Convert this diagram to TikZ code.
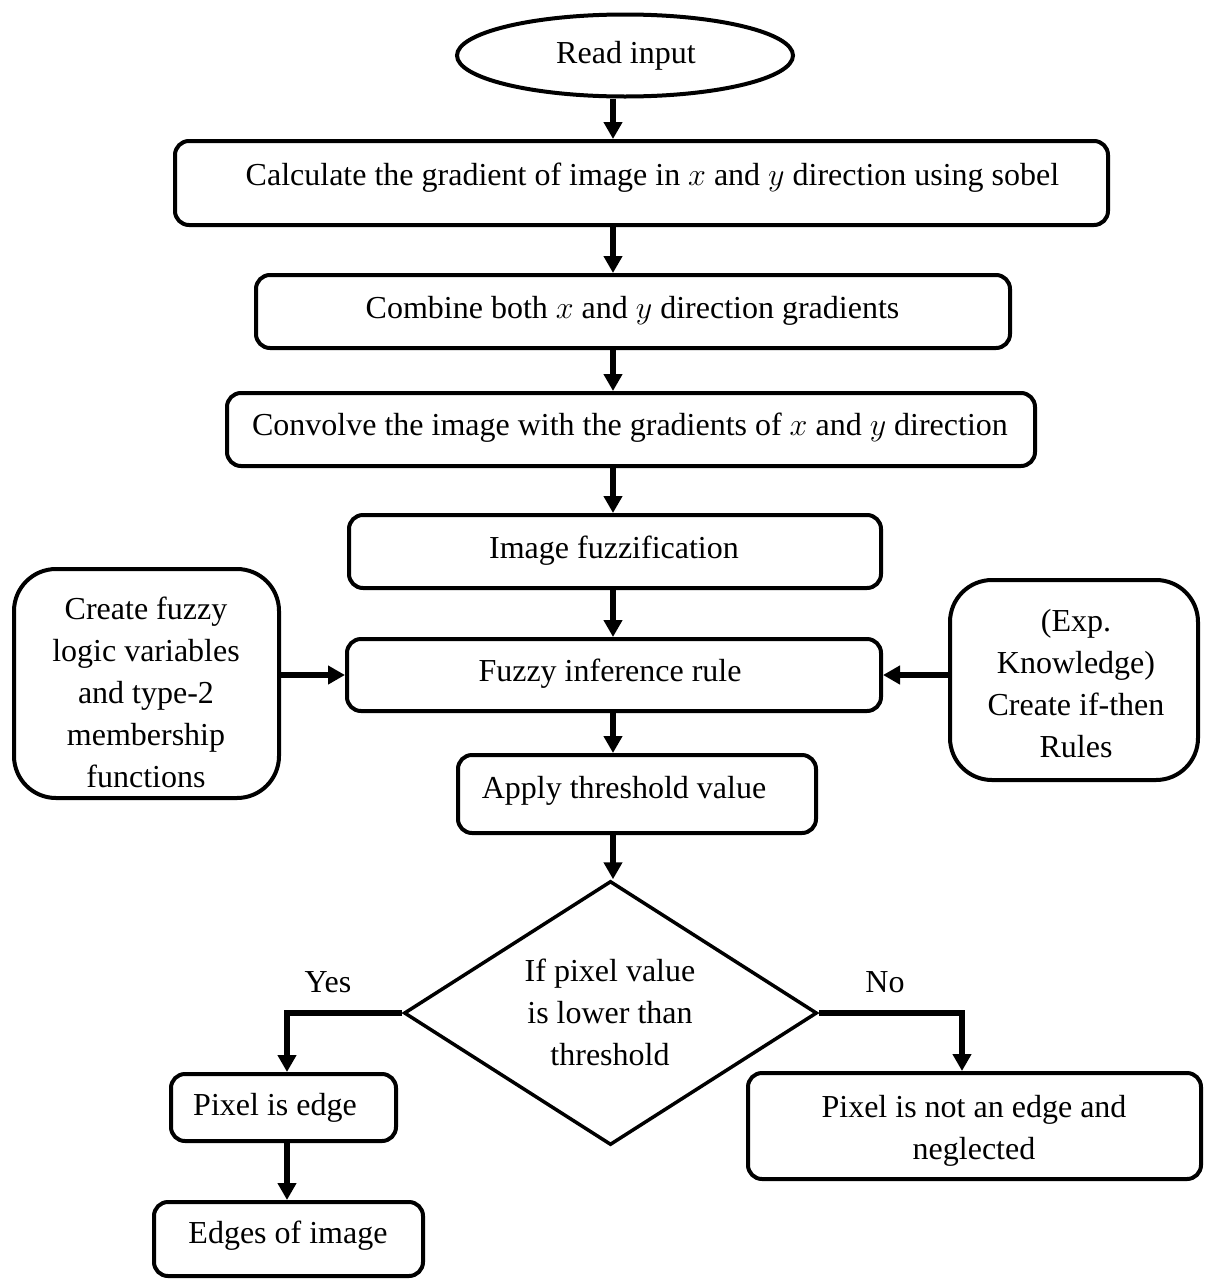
\RequirePackage{fix-cm}
\documentclass[tikz,border=0pt]{standalone}
\usepackage{fontspec}
\setmainfont{Liberation Serif}
\usetikzlibrary{shapes.geometric,arrows.meta}
\begin{document}
\begin{tikzpicture}[x=1pt,y=-1pt,
  every node/.style={font=\fontsize{32}{42}\selectfont},
  frame/.style={draw,line width=4pt,rounded corners=14pt,inner sep=0pt},
  softframe/.style={frame,rounded corners=42pt},
  txt/.style={inner sep=0pt,anchor=base},
  blk/.style={inner sep=0pt,align=center},
  flow/.style={line width=6pt,-{Triangle[length=17pt,width=18pt]}},
  ]
% canvas
\path[fill=white] (0,0) rectangle (1206,1280);
\useasboundingbox (0,0) rectangle (1206,1280);
\coordinate (sp) at (613,0);

% start
\node[draw,ellipse,line width=4pt,inner sep=0pt,minimum width=336pt,minimum height=82pt] (rd) at (625,55.5) {};
\node[txt] (trd) at (626,63) {Read input};

% main column
\node[frame,minimum width=933pt,minimum height=84pt] (b1) at (641.5,183) {};
\node[txt] (t1) at (652.5,185) {Calculate the gradient of image in $x$ and $y$ direction using sobel};

\node[frame,minimum width=754pt,minimum height=73pt] (b2) at (633,311.5) {};
\node[txt] (t2) at (632.5,318) {Combine both $x$ and $y$ direction gradients};

\node[frame,minimum width=808pt,minimum height=73pt] (b3) at (631,429.5) {};
\node[txt] (t3) at (630,435) {Convolve the image with the gradients of $x$ and $y$ direction};

\node[frame,minimum width=532pt,minimum height=73pt] (b4) at (615,551.5) {};
\node[txt] (t4) at (614,558) {Image fuzzification};

\node[frame,minimum width=534pt,minimum height=72pt] (b5) at (614,675) {};
\node[txt] (t5) at (610,681) {Fuzzy inference rule};

\node[frame,minimum width=358pt,minimum height=78pt] (b6) at (637,794) {};
\node[txt] (t6) at (624,798) {Apply threshold value};

% side inputs
\node[softframe,minimum width=265pt,minimum height=229pt] (lb) at (146.5,683.5) {};
\node[blk] (tlb) at (146,692) {Create fuzzy\\logic variables\\and type-2\\membership\\functions};

\node[softframe,minimum width=248pt,minimum height=200pt] (rb) at (1074,680) {};
\node[blk] (trb) at (1076,683.5) {(Exp.\\Knowledge)\\Create if-then\\Rules};

% decision
\node[draw,diamond,line width=3.5pt,inner sep=0pt,minimum width=413pt,minimum height=264pt] (dia) at (610.5,1013) {};
\node[blk] (tdia) at (610,1012) {If pixel value\\is lower than\\threshold};
\node[txt] (yes) at (328,992) {Yes};
\node[txt] (no) at (885,992) {No};

% outcomes
\node[frame,minimum width=225pt,minimum height=67pt] (pe) at (283.5,1107.5) {};
\node[txt] (tpe) at (275,1115) {Pixel is edge};

\node[frame,minimum width=269pt,minimum height=74pt] (eo) at (288.5,1239) {};
\node[txt] (teo) at (288,1243) {Edges of image};

\node[frame,minimum width=453pt,minimum height=106pt] (pn) at (974.5,1126) {};
\node[blk] (tpn) at (974,1130.5) {Pixel is not an edge and\\neglected};

% connectors
\draw[flow] (rd.south -| sp) -- (b1.north -| sp);
\draw[flow] (b1.south -| sp) -- (b2.north -| sp);
\draw[flow] (b2.south -| sp) -- (b3.north -| sp);
\draw[flow] (b3.south -| sp) -- (b4.north -| sp);
\draw[flow] (b4.south -| sp) -- (b5.north -| sp);
\draw[flow] (b5.south -| sp) -- (b6.north -| sp);
\draw[flow] (b6.south -| sp) -- (dia.north -| sp);
\draw[flow] (lb.east |- b5.west) -- (b5.west);
\draw[flow] (rb.west |- b5.east) -- (b5.east);
\draw[flow] (dia.west) -| ([xshift=3.5pt]pe.north);
\draw[flow] (dia.east) -| ([xshift=-12.5pt]pn.north);
\draw[flow] ([xshift=3.5pt]pe.south) -- ([xshift=3.5pt]pe.south |- eo.north);
\end{tikzpicture}
\end{document}
